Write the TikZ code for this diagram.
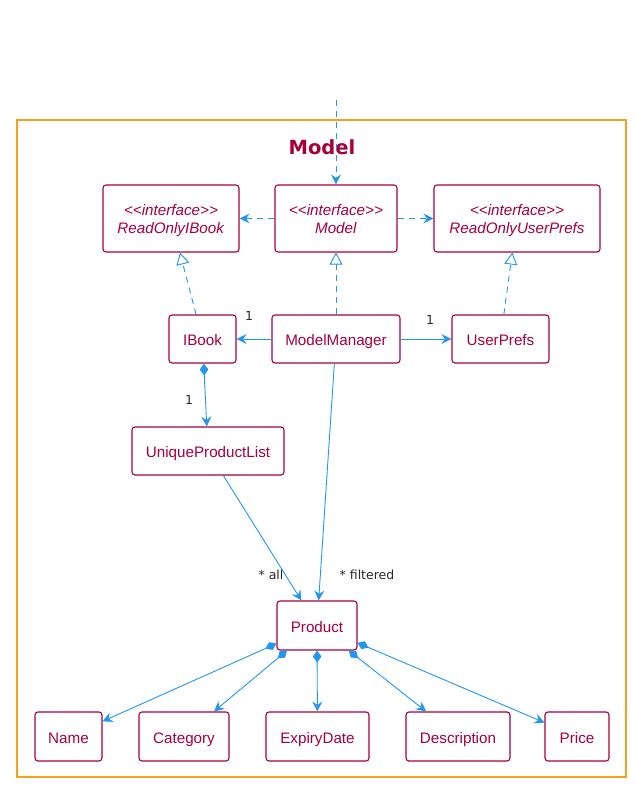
\documentclass[tikz,border=0pt]{standalone}
\usepackage{fontspec}
\setmainfont{Liberation Sans}
\newfontfamily\labelfont{DejaVu Sans}
\usetikzlibrary{arrows.meta}
\definecolor{umlred}{RGB}{168,0,54}
\definecolor{umlblue}{RGB}{33,150,243}
\definecolor{frameorange}{RGB}{245,160,30}
\definecolor{lblgray}{RGB}{40,40,40}
\newcommand{\iface}[1]{\raisebox{-2.5pt}[\height][\depth]{\begin{tabular}{@{}c@{}}\textit{<\kern0pt<interface>\kern0pt>}\\\textit{#1}\end{tabular}}}
\begin{document}
\begin{tikzpicture}[x=1pt,y=-1pt,
  box/.style={draw=umlred, text=umlred, fill=white, rounded corners=3pt,
    line width=1.1pt, inner sep=0pt,
    font=\fontsize{15.2}{18}\selectfont},
  cls/.style={box, text height=13pt, text depth=0pt},
  lbl/.style={text=lblgray, inner sep=0pt, font=\labelfont\fontsize{12.5}{15}\selectfont},
  conn/.style={draw=umlblue, line width=0.9pt},
  arr/.style={conn, -{Stealth[length=10pt,width=10pt,inset=3.5pt]}},
  dsh/.style={dash pattern=on 6pt off 5pt},
  real/.style={conn, dsh, -{Triangle[fill=white,length=12pt,width=13pt]}},
  comp/.style={conn, {Diamond[length=12pt,width=8.5pt]}-{Stealth[length=10pt,width=10pt,inset=3.5pt]}}
]
\useasboundingbox (0,0) rectangle (636,788);
% package frame
\node[draw=frameorange, line width=2pt, minimum width=609pt, minimum height=657pt, inner sep=0pt] (pkg) at (321.5,448.5) {};
\node[text=umlred, inner sep=0pt, font=\labelfont\bfseries\fontsize{19.5}{22}\selectfont] (title) at (322,147) {Model};

% classes
\node[box, minimum width=136pt, minimum height=67pt] (roib) at (171,218.5) {\iface{ReadOnlyIBook}};
\node[box, minimum width=122pt, minimum height=67pt] (model) at (336,218.5) {\iface{Model}};
\node[box, minimum width=166pt, minimum height=67pt] (roup) at (517,218.5) {\iface{ReadOnlyUserPrefs}};
\node[cls, minimum width=67pt, minimum height=48pt] (ibook) at (202.5,339) {IBook};
\node[cls, minimum width=128pt, minimum height=48pt] (mm) at (336,339) {ModelManager};
\node[cls, minimum width=97pt, minimum height=48pt] (up) at (500.5,339) {UserPrefs};
\node[cls, minimum width=152pt, minimum height=48pt] (upl) at (208,451) {UniqueProductList};
\node[cls, minimum width=80pt, minimum height=49pt] (prod) at (317,625.5) {Product};
\node[cls, minimum width=67pt, minimum height=49pt] (name) at (68.5,736.5) {Name};
\node[cls, minimum width=90pt, minimum height=49pt] (cat) at (184,736.5) {Category};
\node[cls, minimum width=103pt, minimum height=49pt] (exp) at (317.5,736.5) {ExpiryDate};
\node[cls, minimum width=104pt, minimum height=49pt] (desc) at (458,736.5) {Description};
\node[cls, minimum width=64pt, minimum height=49pt] (price) at (577,736.5) {Price};

% connectors
\coordinate (top) at (336,100);
\draw[arr, dsh] (top) -- (model);
\draw[arr, dsh] (model) -- (roib);
\draw[arr, dsh] (model) -- (roup);
\draw[real] (ibook) -- (roib);
\draw[real] (mm) -- (model);
\draw[real] (up) -- (roup);
\draw[arr] (mm) -- (ibook);
\draw[arr] (mm) -- (up);
\draw[comp] (ibook) -- (upl);
\draw[arr] (upl) -- (prod);
\draw[arr] (mm) -- (prod);
\draw[comp] (prod) -- (name);
\draw[comp] (prod) -- (cat);
\draw[comp] (prod) -- (exp);
\draw[comp] (prod) -- (desc);
\draw[comp] (prod) -- (price);

% labels
\node[lbl] (l1) at (249,316) {1};
\node[lbl] (l2) at (430,320) {1};
\node[lbl] (l3) at (189,400) {1};
\node[lbl] (lall) at (271,575) {* all};
\node[lbl] (lfil) at (367,575) {* filtered};
\end{tikzpicture}
\end{document}
